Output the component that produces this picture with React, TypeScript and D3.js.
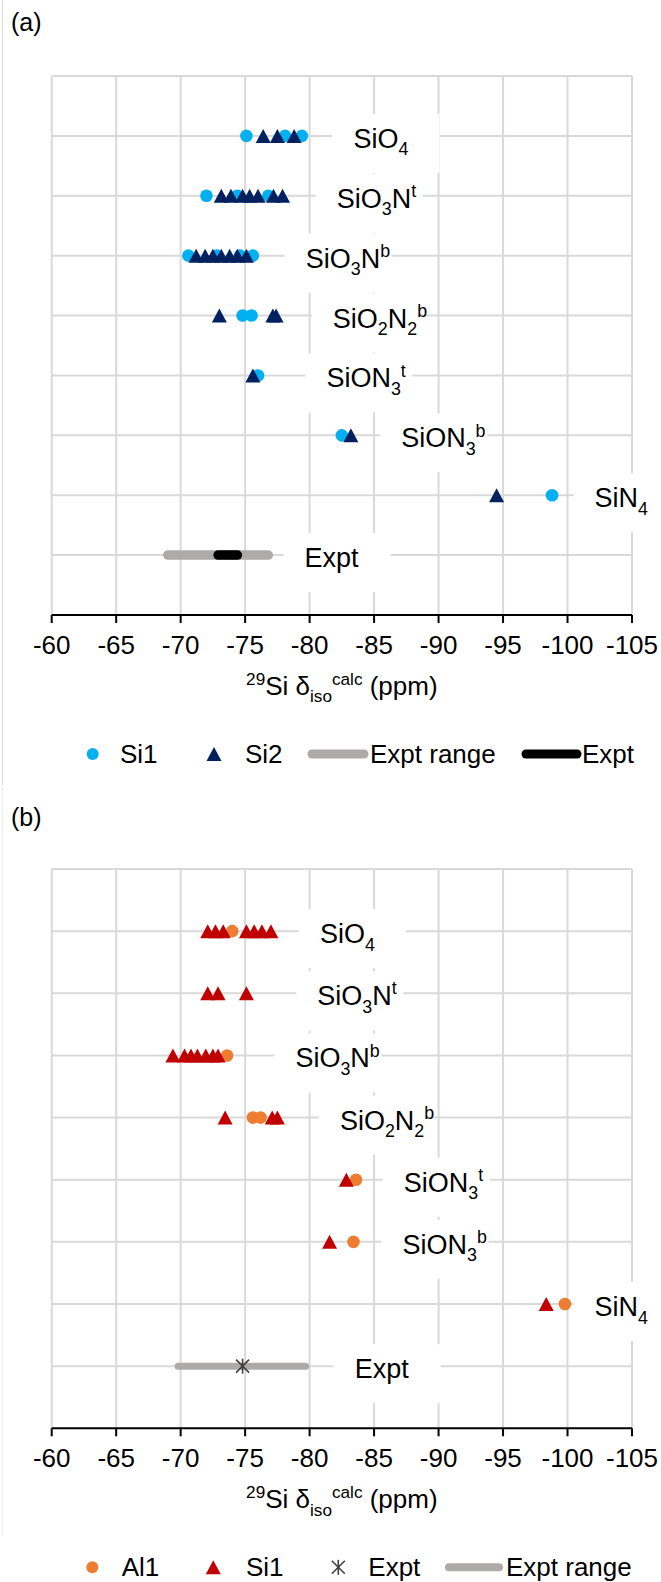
import React from "react";
import * as d3 from "d3";

// ---- data ----
const categories = ["SiO4", "SiO3Nt", "SiO3Nb", "SiO2N2b", "SiON3t", "SiON3b", "SiN4", "Expt"];
const xTicks = [-60, -65, -70, -75, -80, -85, -90, -95, -100, -105];

// rich label parts: [text, "n" | "sub" | "sup"]
const categoryLabels: [string, string][][] = [
  [["SiO", "n"], ["4", "sub"]],
  [["SiO", "n"], ["3", "sub"], ["N", "n"], ["t", "sup"]],
  [["SiO", "n"], ["3", "sub"], ["N", "n"], ["b", "sup"]],
  [["SiO", "n"], ["2", "sub"], ["N", "n"], ["2", "sub"], ["b", "sup"]],
  [["SiON", "n"], ["3", "sub"], ["t", "sup"]],
  [["SiON", "n"], ["3", "sub"], ["b", "sup"]],
  [["SiN", "n"], ["4", "sub"]],
  [["Expt", "n"]],
];

// panel (a)
const aSi1 = [
  [-75.1, -78.1, -79.4],
  [-72.0, -74.4, -76.8],
  [-70.6, -72.8, -74.6, -75.6],
  [-74.8, -75.5],
  [-76.0],
  [-82.5],
  [-98.8],
];
const aSi2 = [
  [-76.4, -77.5, -78.8],
  [-73.15, -73.9, -74.8, -75.35, -76.0, -77.2, -77.9],
  [-71.2, -71.9, -72.5, -73.15, -73.8, -74.4, -75.1],
  [-73.0, -77.15, -77.4],
  [-75.6],
  [-83.2],
  [-94.5],
];
const aExptRange = [-69.0, -76.8];
const aExpt = [-72.9, -74.4];
const aLabelAt = [-83.4, -82.1, -79.7, -81.8, -81.3, -87.1, -102.1, -79.6];

// panel (b)
const bAl1 = [
  [-74.0],
  [],
  [-73.6],
  [-75.6, -76.2],
  [-83.6],
  [-83.4],
  [-99.8],
];
const bSi1 = [
  [-72.1, -72.7, -73.3, -75.1, -75.7, -76.3, -77.0],
  [-72.1, -72.9, -75.1],
  [-69.4, -70.3, -70.8, -71.3, -71.95, -72.5, -72.9],
  [-73.45, -77.1, -77.5],
  [-82.85],
  [-81.55],
  [-98.35],
];
const bExpt = -74.8;
const bExptRange = [-69.8, -79.7];
const bLabelAt = [-80.8, -80.6, -78.9, -82.35, -87.3, -87.2, -102.1, -83.5];

const legendA = ["Si1", "Si2", "Expt range", "Expt"];
const legendB = ["Al1", "Si1", "Expt", "Expt range"];

const FONT = "'Liberation Sans', Arial, sans-serif";
const GRID = "#d9d9d9";
const C_LBLUE = "#00B0F0";
const C_NAVY = "#002060";
const C_ORANGE = "#ED7D31";
const C_RED = "#C00000";
const C_GRAY = "#AEAAAA";

const TRI = "M0,-7L7.5,7L-7.5,7Z";

function Rich({ parts, x, y, size, anchor = "start" }: any) {
  let off = 0;
  return (
    <text x={x} y={y} fontFamily={FONT} fontSize={size} textAnchor={anchor} fill="#000">
      {parts.map(([t, k]: [string, string], i: number) => {
        const target = k === "sub" ? size * 0.28 : k === "sup" ? -size * 0.4 : 0;
        const dy = target - off;
        off = target;
        return (
          <tspan key={i} dy={dy} fontSize={k === "n" ? size : size * 0.66}>
            {t}
          </tspan>
        );
      })}
    </text>
  );
}

function Star({ x, y }: any) {
  const s = 6.5;
  return (
    <g transform={`translate(${x},${y})`} stroke="#404040" strokeWidth={1.6}>
      <line x1={-s} y1={-s} x2={s} y2={s} />
      <line x1={-s} y1={s} x2={s} y2={-s} />
      <line x1={0} y1={-s - 1} x2={0} y2={s + 1} />
    </g>
  );
}

function Panel(props: any) {
  const { yTop, yAxis, circles, triangles, cColor, tColor, labelAt, rangeLine, rangeW, exptLine, exptStar, legend } = props;
  const x = d3.scaleLinear().domain([-60, -105]).range([51.7, 632]);
  const y = d3.scaleLinear().domain([0, 9]).range([yAxis, yTop]);
  const rowY = (i: number) => y(8 - i);
  const last = categories.length - 1;
  const legY = yAxis + 139;

  return (
    <g>
      {/* grid */}
      {xTicks.map((t) => (
        <line key={"v" + t} x1={x(t)} x2={x(t)} y1={y(9)} y2={y(0)} stroke={GRID} strokeWidth={2} />
      ))}
      {d3.range(1, 10).map((v) => (
        <line key={"h" + v} x1={x(-60)} x2={x(-105)} y1={y(v)} y2={y(v)} stroke={GRID} strokeWidth={2} />
      ))}
      {/* axis */}
      <line x1={x(-60)} x2={x(-105)} y1={yAxis} y2={yAxis} stroke="#000" strokeWidth={2} />
      {xTicks.map((t) => (
        <g key={"t" + t}>
          <line x1={x(t)} x2={x(t)} y1={yAxis} y2={yAxis + 8} stroke="#000" strokeWidth={2} />
          <text x={x(t)} y={yAxis + 39} fontFamily={FONT} fontSize={26} textAnchor="middle">
            {t}
          </text>
        </g>
      ))}
      <Rich
        parts={[["29", "sup"], ["Si ", "n"], ["δ", "n"], ["iso", "sub"], ["calc", "sup"], [" (ppm)", "n"]]}
        x={(x(-60) + x(-105)) / 2}
        y={yAxis + 80}
        size={26}
        anchor="middle"
      />
      {/* series */}
      {circles.map((row: number[], i: number) =>
        row.map((v, j) => <circle key={`c${i}-${j}`} cx={x(v)} cy={rowY(i)} r={6.3} fill={cColor} />)
      )}
      {triangles.map((row: number[], i: number) =>
        row.map((v, j) => (
          <path key={`t${i}-${j}`} d={TRI} transform={`translate(${x(v)},${rowY(i)})`} fill={tColor} />
        ))
      )}
      <line
        x1={x(rangeLine[0])}
        x2={x(rangeLine[1])}
        y1={rowY(last)}
        y2={rowY(last)}
        stroke={C_GRAY}
        strokeWidth={rangeW}
        strokeLinecap="round"
      />
      {exptLine && (
        <line
          x1={x(exptLine[0])}
          x2={x(exptLine[1])}
          y1={rowY(last)}
          y2={rowY(last)}
          stroke="#000"
          strokeWidth={rangeW}
          strokeLinecap="round"
        />
      )}
      {exptStar !== undefined && <Star x={x(exptStar)} y={rowY(last)} />}
      {/* labels */}
      {categories.map((c, i) => {
        const lx = x(labelAt[i]);
        const by = rowY(i) + 12;
        return (
          <g key={"l" + c}>
            <rect x={lx - 21} y={by - 34} width={107} height={59} fill="#fff" />
            <Rich parts={categoryLabels[i]} x={lx} y={by} size={27} />
          </g>
        );
      })}
      {/* legend */}
      {legend.map((it: any, i: number) => (
        <g key={"lg" + i}>
          {it.kind === "circle" && <circle cx={it.mx} cy={legY} r={6} fill={it.color} />}
          {it.kind === "tri" && <path d={TRI} transform={`translate(${it.mx},${legY})`} fill={it.color} />}
          {it.kind === "star" && <Star x={it.mx} y={legY} />}
          {it.kind === "line" && (
            <line
              x1={it.mx}
              x2={it.mx2}
              y1={legY}
              y2={legY}
              stroke={it.color}
              strokeWidth={it.w}
              strokeLinecap="round"
            />
          )}
          <text x={it.tx} y={legY + 9} fontFamily={FONT} fontSize={26}>
            {it.label}
          </text>
        </g>
      ))}
    </g>
  );
}

export default function App() {
  const legItemsA = [
    { kind: "circle", color: C_LBLUE, mx: 92.7, tx: 120, label: legendA[0] },
    { kind: "tri", color: C_NAVY, mx: 214, tx: 245, label: legendA[1] },
    { kind: "line", color: C_GRAY, mx: 312, mx2: 364, w: 9, tx: 370, label: legendA[2] },
    { kind: "line", color: "#000", mx: 526, mx2: 577, w: 9, tx: 582, label: legendA[3] },
  ];
  const legItemsB = [
    { kind: "circle", color: C_ORANGE, mx: 92.3, tx: 121.7, label: legendB[0] },
    { kind: "tri", color: C_RED, mx: 213.3, tx: 246, label: legendB[1] },
    { kind: "star", mx: 338.3, tx: 368.3, label: legendB[2] },
    { kind: "line", color: C_GRAY, mx: 449, mx2: 499, w: 8, tx: 506, label: legendB[3] },
  ];

  return (
    <svg
      width={661}
      height={1582}
      style={{ position: "absolute", left: 0, top: 0, background: "#fff" }}
    >
      <rect width={661} height={1582} fill="#fff" />
      <line x1={2.5} x2={2.5} y1={0} y2={785} stroke="#d9d9d9" strokeWidth={1} />
      <line x1={2.5} x2={2.5} y1={788} y2={1535} stroke="#ececec" strokeWidth={1} />
      <text x={11} y={31} fontFamily={FONT} fontSize={25}>(a)</text>
      <text x={11} y={826} fontFamily={FONT} fontSize={25}>(b)</text>
      <Panel
        yTop={76}
        yAxis={615}
        circles={aSi1}
        triangles={aSi2}
        cColor={C_LBLUE}
        tColor={C_NAVY}
        labelAt={aLabelAt}
        rangeLine={aExptRange}
        rangeW={9.5}
        exptLine={aExpt}
        legend={legItemsA}
      />
      <Panel
        yTop={869}
        yAxis={1428.3}
        circles={bAl1}
        triangles={bSi1}
        cColor={C_ORANGE}
        tColor={C_RED}
        labelAt={bLabelAt}
        rangeLine={bExptRange}
        rangeW={7}
        exptStar={bExpt}
        legend={legItemsB}
      />
    </svg>
  );
}
